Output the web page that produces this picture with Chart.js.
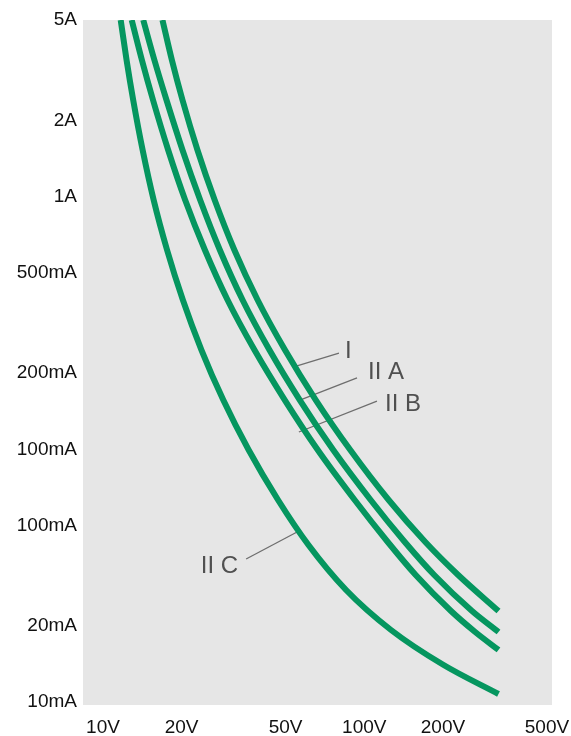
<!DOCTYPE html>
<html>
<head>
<meta charset="utf-8">
<script src="https://cdn.jsdelivr.net/npm/chart.js@4.4.1/dist/chart.umd.min.js"></script>
<style>
  html, body { margin: 0; padding: 0; background: #ffffff; }
  #wrap { width: 571px; height: 736px; position: relative; }
</style>
</head>
<body>
<div id="wrap"><canvas id="chart" width="571" height="736"></canvas></div>
<script>
// Ignition limit curves, voltage (V) against current (A), log-log

// Group I
const groupIVolts = [16.89, 18.35, 20.15, 22.99, 26.76, 31.83, 39.07, 49.73, 65.23, 88.41, 124.0, 171.2, 228.7, 326.3];
const groupIAmps  = [5.0, 3.473, 2.412, 1.530, 0.9698, 0.6150, 0.3899, 0.2472, 0.1567, 0.09939, 0.06302, 0.04298, 0.03182, 0.02292];

// Group II A
const groupIIAVolts = [14.26, 15.73, 17.50, 20.15, 23.55, 28.01, 34.22, 43.37, 56.65, 76.10, 105.8, 142.9, 185.2, 258.4, 326.3];
const groupIIAAmps  = [5.0, 3.473, 2.412, 1.530, 0.9698, 0.6150, 0.3899, 0.2472, 0.1567, 0.09939, 0.06302, 0.04298, 0.03182, 0.02292, 0.01893];

// Group II B
const groupIIBVolts = [12.88, 14.09, 15.54, 17.76, 20.63, 24.55, 29.98, 38.01, 49.64, 66.39, 91.90, 123.0, 157.3, 214.7, 265.7, 326.3];
const groupIIBAmps  = [5.0, 3.473, 2.412, 1.530, 0.9698, 0.6150, 0.3899, 0.2472, 0.1567, 0.09939, 0.06302, 0.04298, 0.03182, 0.02292, 0.01893, 0.01607];

// Group II C
const groupIICVolts = [11.69, 12.31, 13.05, 14.18, 15.63, 17.59, 20.22, 23.82, 28.87, 36.11, 46.78, 61.16, 85.18, 126.6, 201.2, 326.3];
const groupIICAmps  = [5.0, 3.473, 2.412, 1.530, 0.9698, 0.6150, 0.3899, 0.2472, 0.1567, 0.09939, 0.06302, 0.04182, 0.02776, 0.01928, 0.01401, 0.01076];

// Axis ticks
const voltageTicks  = [10, 20, 50, 100, 200, 500];
const voltageLabels = ['10V', '20V', '50V', '100V', '200V', '500V'];
const currentTicks  = [0.01, 0.02, 0.05, 0.1, 0.2, 0.5, 1, 2, 5];
const currentLabels = ['10mA', '20mA', '100mA', '100mA', '200mA', '500mA', '1A', '2A', '5A'];

// Curve name labels: where the leader touches the curve, where it ends, and where the text sits
const curveNames      = ['I', 'II A', 'II B', 'II C'];
const leaderFromVolts = [55.3, 56.7, 56.2, 55.3];
const leaderFromAmps  = [0.2137, 0.1567, 0.1171, 0.0471];
const leaderToVolts   = [80.0, 93.8, 111.8, 35.3];
const leaderToAmps    = [0.2405, 0.1916, 0.1553, 0.0368];
const nameVolts       = [84.4, 103.3, 120.0, 32.9];
const nameAmps        = [0.245, 0.2023, 0.1511, 0.0345];
const nameAlign       = ['left', 'left', 'left', 'right'];

const CURVE_COLOR = '#05965f';
const toPoints = (xs, ys) => xs.map((x, i) => ({ x: x, y: ys[i] }));

const curve = (label, xs, ys) => ({
  label: label,
  data: toPoints(xs, ys),
  borderColor: CURVE_COLOR,
  borderWidth: 6,
  borderCapStyle: 'butt',
  pointRadius: 0,
  fill: false,
  cubicInterpolationMode: 'monotone',
  clip: 0
});

const plotBackground = {
  id: 'plotBackground',
  beforeDraw(chart) {
    const { ctx, chartArea: a } = chart;
    ctx.save();
    ctx.fillStyle = '#e6e6e6';
    ctx.fillRect(a.left, a.top, a.right - a.left, a.bottom - a.top);
    ctx.restore();
  }
};

const curveNameLabels = {
  id: 'curveNameLabels',
  beforeDatasetsDraw(chart) {
    const { ctx } = chart;
    const xs = chart.scales.x, ys = chart.scales.y;
    ctx.save();
    ctx.strokeStyle = '#6e6e6e';
    ctx.lineWidth = 1.3;
    curveNames.forEach((n, i) => {
      ctx.beginPath();
      ctx.moveTo(xs.getPixelForValue(leaderFromVolts[i]), ys.getPixelForValue(leaderFromAmps[i]));
      ctx.lineTo(xs.getPixelForValue(leaderToVolts[i]), ys.getPixelForValue(leaderToAmps[i]));
      ctx.stroke();
    });
    ctx.restore();
  },
  afterDatasetsDraw(chart) {
    const { ctx } = chart;
    const xs = chart.scales.x, ys = chart.scales.y;
    ctx.save();
    ctx.fillStyle = '#505050';
    ctx.font = '24px "Liberation Sans", Arial, sans-serif';
    ctx.textBaseline = 'middle';
    curveNames.forEach((n, i) => {
      ctx.textAlign = nameAlign[i];
      ctx.fillText(n, xs.getPixelForValue(nameVolts[i]), ys.getPixelForValue(nameAmps[i]));
    });
    ctx.restore();
  }
};

const tickFont = { family: '"Liberation Sans", Arial, sans-serif', size: 19 };

const noScalePadding = s => {
  s.paddingLeft = 0; s.paddingRight = 0; s.paddingTop = 0; s.paddingBottom = 0;
};

new Chart(document.getElementById('chart'), {
  type: 'line',
  data: {
    datasets: [
      curve('I', groupIVolts, groupIAmps),
      curve('II A', groupIIAVolts, groupIIAAmps),
      curve('II B', groupIIBVolts, groupIIBAmps),
      curve('II C', groupIICVolts, groupIICAmps)
    ]
  },
  options: {
    responsive: false,
    animation: false,
    layout: { padding: { top: 20, right: 19, bottom: 0, left: 0 } },
    plugins: { legend: { display: false }, tooltip: { enabled: false } },
    scales: {
      x: {
        type: 'logarithmic',
        min: 8.386,
        max: 522.8,
        grid: { display: false, drawTicks: false },
        border: { display: false },
        afterBuildTicks: s => { s.ticks = voltageTicks.map(v => ({ value: v })); },
        afterFit: s => { s.height = 31; noScalePadding(s); },
        ticks: {
          autoSkip: false,
          maxRotation: 0,
          padding: 11,
          color: '#111111',
          font: tickFont,
          callback: v => voltageLabels[voltageTicks.indexOf(v)]
        }
      },
      y: {
        type: 'logarithmic',
        min: 0.009734,
        max: 5,
        grid: { display: false, drawTicks: false },
        border: { display: false },
        afterBuildTicks: s => { s.ticks = currentTicks.map(v => ({ value: v })); },
        afterFit: s => { s.width = 83; noScalePadding(s); },
        ticks: {
          autoSkip: false,
          padding: 6,
          color: '#111111',
          font: tickFont,
          callback: v => currentLabels[currentTicks.indexOf(v)]
        }
      }
    }
  },
  plugins: [plotBackground, curveNameLabels]
});
</script>
</body>
</html>
